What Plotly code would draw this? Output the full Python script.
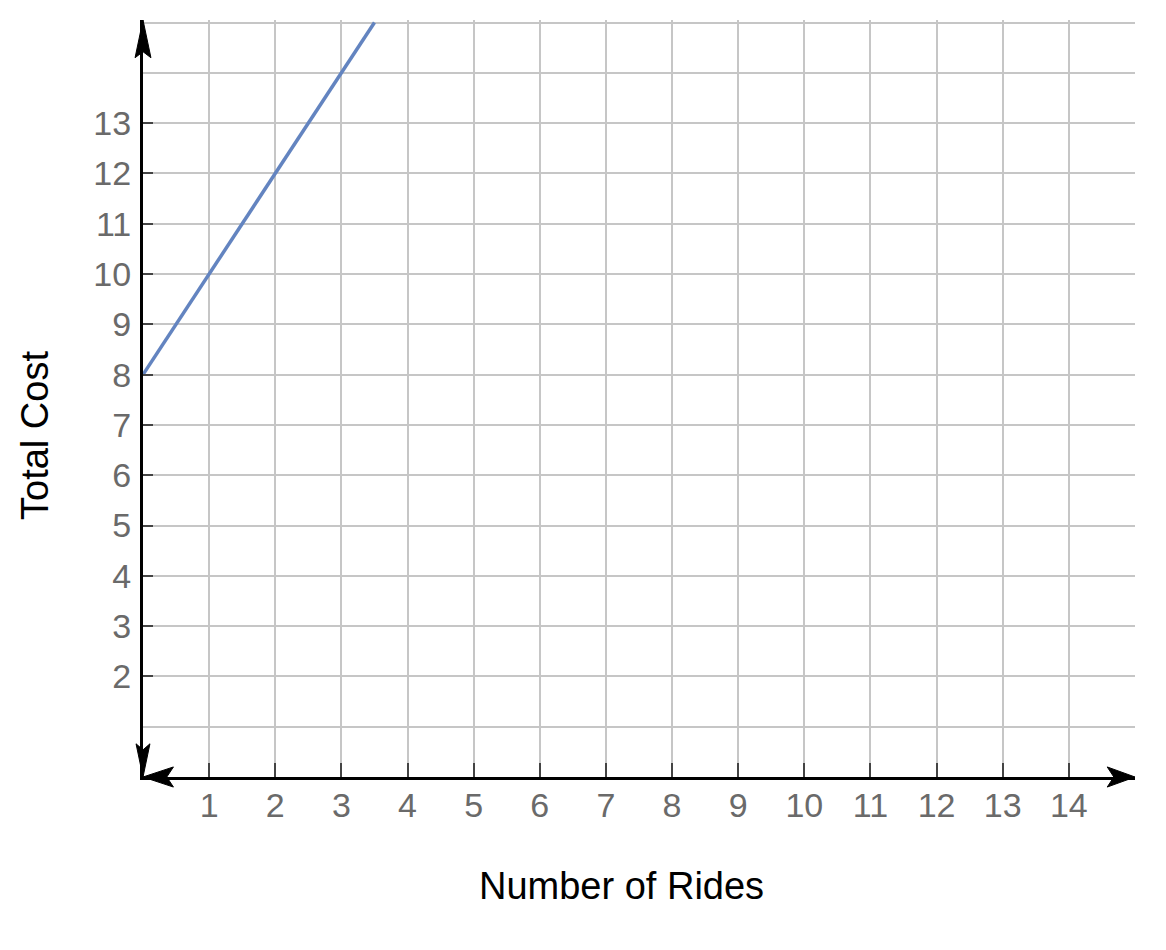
import plotly.graph_objects as go

# Data
rides = [0, 1, 2, 3, 3.5]
cost = [8, 10, 12, 14, 15]
x_ticks = list(range(1, 15))
y_ticks = list(range(2, 14))
y_extra_grid = [1, 14, 15]
x_title = "Number of Rides"
y_title = "Total Cost"

X_RANGE = [0, 15]
Y_RANGE = [0, 15.05]

def px(v):
    return (v - X_RANGE[0]) / (X_RANGE[1] - X_RANGE[0])

def py(v):
    return (v - Y_RANGE[0]) / (Y_RANGE[1] - Y_RANGE[0])

GRID = "#c6c6c6"
TICKFONT = dict(family="Liberation Sans Narrow, Arial Narrow, Liberation Sans, sans-serif", size=34, color="#6a6a6a")

fig = go.Figure()
fig.add_trace(go.Scatter(x=rides, y=cost, mode="lines",
                         line=dict(color="#6384c0", width=3.5),
                         hoverinfo="skip", showlegend=False))

def path(points):
    s = "M " + " L ".join(f"{px(a):.5f},{py(b):.5f}" for a, b in points) + " Z"
    return s

shapes = []
# arrowheads (paper coordinates derived from axis ranges)
arrows = [
    [(0, 15.05), (0.12, 14.3), (0, 14.42), (-0.12, 14.3)],    # up
    [(0, 0.0), (0.105, 0.66), (0, 0.54), (-0.105, 0.66)],       # down
    [(0, 0), (0.46, 0.2), (0.36, 0), (0.46, -0.2)],             # left
    [(15, 0), (14.58, 0.2), (14.68, 0), (14.58, -0.2)],         # right
]
for pts in arrows:
    shapes.append(dict(type="path", xref="paper", yref="paper", path=path(pts),
                       fillcolor="black", line=dict(color="black", width=1), layer="above"))

fig.update_layout(
    width=1166, height=950,
    margin=dict(l=135, r=39, t=12, b=181),
    paper_bgcolor="white", plot_bgcolor="white",
    showlegend=False,
    shapes=shapes,
    xaxis=dict(range=X_RANGE, tickmode="array", tickvals=x_ticks,
               ticktext=[str(v) for v in x_ticks],
               ticks="inside", ticklen=14, tickwidth=2, tickcolor="#444",
               showgrid=True, gridcolor=GRID, gridwidth=2,
               showline=True, linecolor="black", linewidth=3,
               zeroline=False, tickfont=TICKFONT, ticklabelstandoff=-4,
               fixedrange=True),
    yaxis=dict(range=Y_RANGE, tickmode="array", tickvals=y_ticks,
               ticktext=[str(v) for v in y_ticks],
               ticks="inside", ticklen=10, tickwidth=2, tickcolor="#444",
               showgrid=True, gridcolor=GRID, gridwidth=2,
               minor=dict(tickmode="array", tickvals=y_extra_grid, showgrid=True,
                          gridcolor=GRID, gridwidth=2, ticks=""),
               showline=True, linecolor="black", linewidth=3,
               zeroline=False, tickfont=TICKFONT, ticklabelstandoff=2,
               fixedrange=True),
    annotations=[
        dict(text=x_title, xref="paper", yref="paper", x=px(7.23), y=0,
             yshift=-109, showarrow=False, xanchor="center", yanchor="middle",
             font=dict(family="Liberation Sans, Arial, sans-serif", size=38, color="black")),
        dict(text=y_title, xref="paper", yref="paper", x=0, y=py(6.78),
             xshift=-108, showarrow=False, xanchor="center", yanchor="middle",
             textangle=-90,
             font=dict(family="Liberation Sans, Arial, sans-serif", size=38, color="black")),
    ],
)

fig.write_html("out.html")
